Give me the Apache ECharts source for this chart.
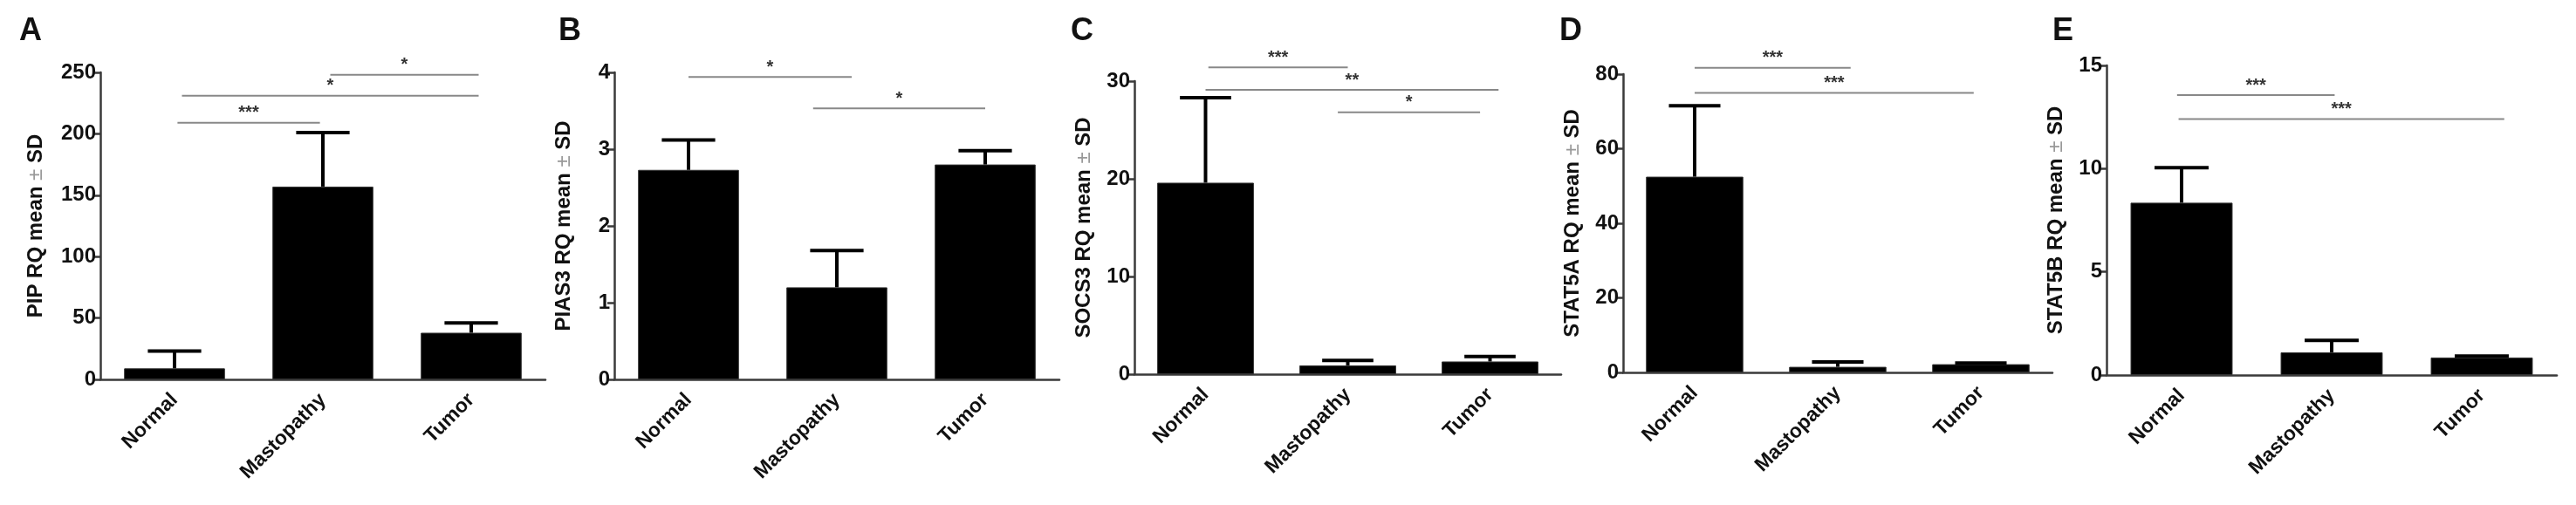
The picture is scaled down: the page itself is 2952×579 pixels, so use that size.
<!DOCTYPE html>
<html>
<head>
<meta charset="utf-8" />
<title>RQ panels</title>
<script src="https://cdn.jsdelivr.net/npm/echarts@6/dist/echarts.min.js"></script>
<style>
  html, body {margin:0;padding:0;background:#fff;}
  #chart {width:2952px;height:579px;}
</style>
</head>
<body>
<div id="chart"></div>
<script>
var categories = ['Normal', 'Mastopathy', 'Tumor'];

// per panel: mean, mean + SD
var pipMean = [9, 157, 38],     pipTop = [23, 201, 46];
var piasMean = [2.73, 1.2, 2.8], piasTop = [3.12, 1.68, 2.98];
var socsMean = [19.6, 0.9, 1.3], socsTop = [28.3, 1.4, 1.8];
var stataMean = [52.5, 1.5, 2.2], stataTop = [71.5, 2.8, 2.5];
var statbMean = [8.35, 1.1, 0.85], statbTop = [10.05, 1.68, 0.92];

// significance bars: [from category, to category, y value, label]
var pipSig = [[0.02, 0.98, 209, '***'], [0.05, 2.05, 231, '*'], [1.05, 2.05, 248, '*']];
var piasSig = [[0, 1.1, 3.94, '*'], [0.84, 2.0, 3.53, '*']];
var socsSig = [[0.02, 1.0, 31.4, '***'], [0, 2.06, 29.1, '**'], [0.93, 1.93, 26.8, '*']];
var stataSig = [[0, 1.09, 81.7, '***'], [0, 1.95, 75, '***']];
var statbSig = [[-0.03, 1.02, 13.56, '***'], [-0.02, 2.15, 12.4, '***']];

var panels = [
  {letter: 'A', gene: 'PIP',   mean: pipMean,   top: pipTop,   sig: pipSig,   max: 250, step: 50, left: 115,  width: 510, topPx: 83, bottomY: 435, letterX: 22},
  {letter: 'B', gene: 'PIAS3', mean: piasMean,  top: piasTop,  sig: piasSig,  max: 4,   step: 1,  left: 704,  width: 510, topPx: 83, bottomY: 435, letterX: 640},
  {letter: 'C', gene: 'SOCS3', mean: socsMean,  top: socsTop,  sig: socsSig,  max: 30,  step: 10, left: 1300, width: 489, topPx: 93, bottomY: 429, letterX: 1227},
  {letter: 'D', gene: 'STAT5A', mean: stataMean, top: stataTop, sig: stataSig, max: 80, step: 20, left: 1860, width: 492, topPx: 85, bottomY: 427, letterX: 1787},
  {letter: 'E', gene: 'STAT5B', mean: statbMean, top: statbTop, sig: statbSig, max: 15, step: 5,  left: 2414, width: 516, topPx: 75, bottomY: 430, letterX: 2352}
];

var font = 'Liberation Sans, Arial, sans-serif';
var axisColor = '#3a3a3a';

var grid = [], xAxis = [], yAxis = [], series = [], graphic = [];

panels.forEach(function (p, i) {
  grid.push({left: p.left, width: p.width, top: p.topPx, bottom: 579 - p.bottomY});
  xAxis.push({
    type: 'category', gridIndex: i, data: categories,
    axisLine: {lineStyle: {color: axisColor, width: 2.5}},
    axisTick: {alignWithLabel: true, length: 10, lineStyle: {color: axisColor, width: 2.5}},
    axisLabel: {rotate: 45, fontFamily: font, fontWeight: 'bold', fontSize: 23, color: '#111', margin: 20}
  });
  yAxis.push({
    type: 'value', gridIndex: i, min: 0, max: p.max, interval: p.step,
    name: '{a|' + p.gene + ' RQ mean }{b|±}{a| SD}',
    nameLocation: 'middle', nameGap: p.max >= 100 ? 62 : 46,
    nameTextStyle: {rich: {
      a: {fontFamily: font, fontWeight: 'bold', fontSize: 24, color: '#111'},
      b: {fontFamily: font, fontSize: 24, color: '#999'}
    }},
    splitLine: {show: false},
    axisLine: {show: true, lineStyle: {color: axisColor, width: 2.5}},
    axisTick: {show: true, length: 8, lineStyle: {color: axisColor, width: 2.5}},
    axisLabel: {fontFamily: font, fontWeight: 'bold', fontSize: 24, color: '#111', margin: 5}
  });

  series.push({
    type: 'bar', xAxisIndex: i, yAxisIndex: i, data: p.mean,
    barWidth: '68%', itemStyle: {color: '#000', borderColor: '#333', borderWidth: 1}, z: 2
  });

  // error bars (upper SD only)
  series.push({
    type: 'custom', xAxisIndex: i, yAxisIndex: i, z: 3,
    data: p.mean.map(function (m, k) { return [k, m, p.top[k]]; }),
    renderItem: function (params, api) {
      var base = api.coord([api.value(0), api.value(1)]);
      var hi = api.coord([api.value(0), api.value(2)]);
      var half = api.size([1, 0])[0] * 0.18;
      var st = {stroke: '#000', lineWidth: 4};
      return {type: 'group', children: [
        {type: 'line', shape: {x1: base[0], y1: base[1], x2: hi[0], y2: hi[1]}, style: st},
        {type: 'line', shape: {x1: hi[0] - half, y1: hi[1], x2: hi[0] + half, y2: hi[1]}, style: st}
      ]};
    }
  });

  // significance brackets
  series.push({
    type: 'custom', xAxisIndex: i, yAxisIndex: i, z: 4, clip: false,
    data: p.sig.map(function (s) { return [s[0], s[1], s[2], s[3]]; }),
    renderItem: function (params, api) {
      var c0 = api.coord([0, api.value(2)]);
      var c1 = api.coord([1, api.value(2)]);
      var d = c1[0] - c0[0];
      var xa = c0[0] + d * api.value(0), xb = c0[0] + d * api.value(1);
      var y = c0[1];
      var label = p.sig[params.dataIndex][3];
      return {type: 'group', children: [
        {type: 'line', shape: {x1: xa, y1: y, x2: xb, y2: y}, style: {stroke: '#888', lineWidth: 2}},
        {type: 'text', x: (xa + xb) / 2, y: y - 1, style: {text: label, fill: '#333', font: 'bold 20px ' + font, align: 'center', verticalAlign: 'bottom'}}
      ]};
    }
  });

  graphic.push({type: 'text', left: p.letterX, top: 18, style: {text: p.letter, font: 'bold 36px ' + font, fill: '#111'}});
});

var chart = echarts.init(document.getElementById('chart'));
chart.setOption({animation: false, grid: grid, xAxis: xAxis, yAxis: yAxis, series: series, graphic: graphic});
</script>
</body>
</html>
